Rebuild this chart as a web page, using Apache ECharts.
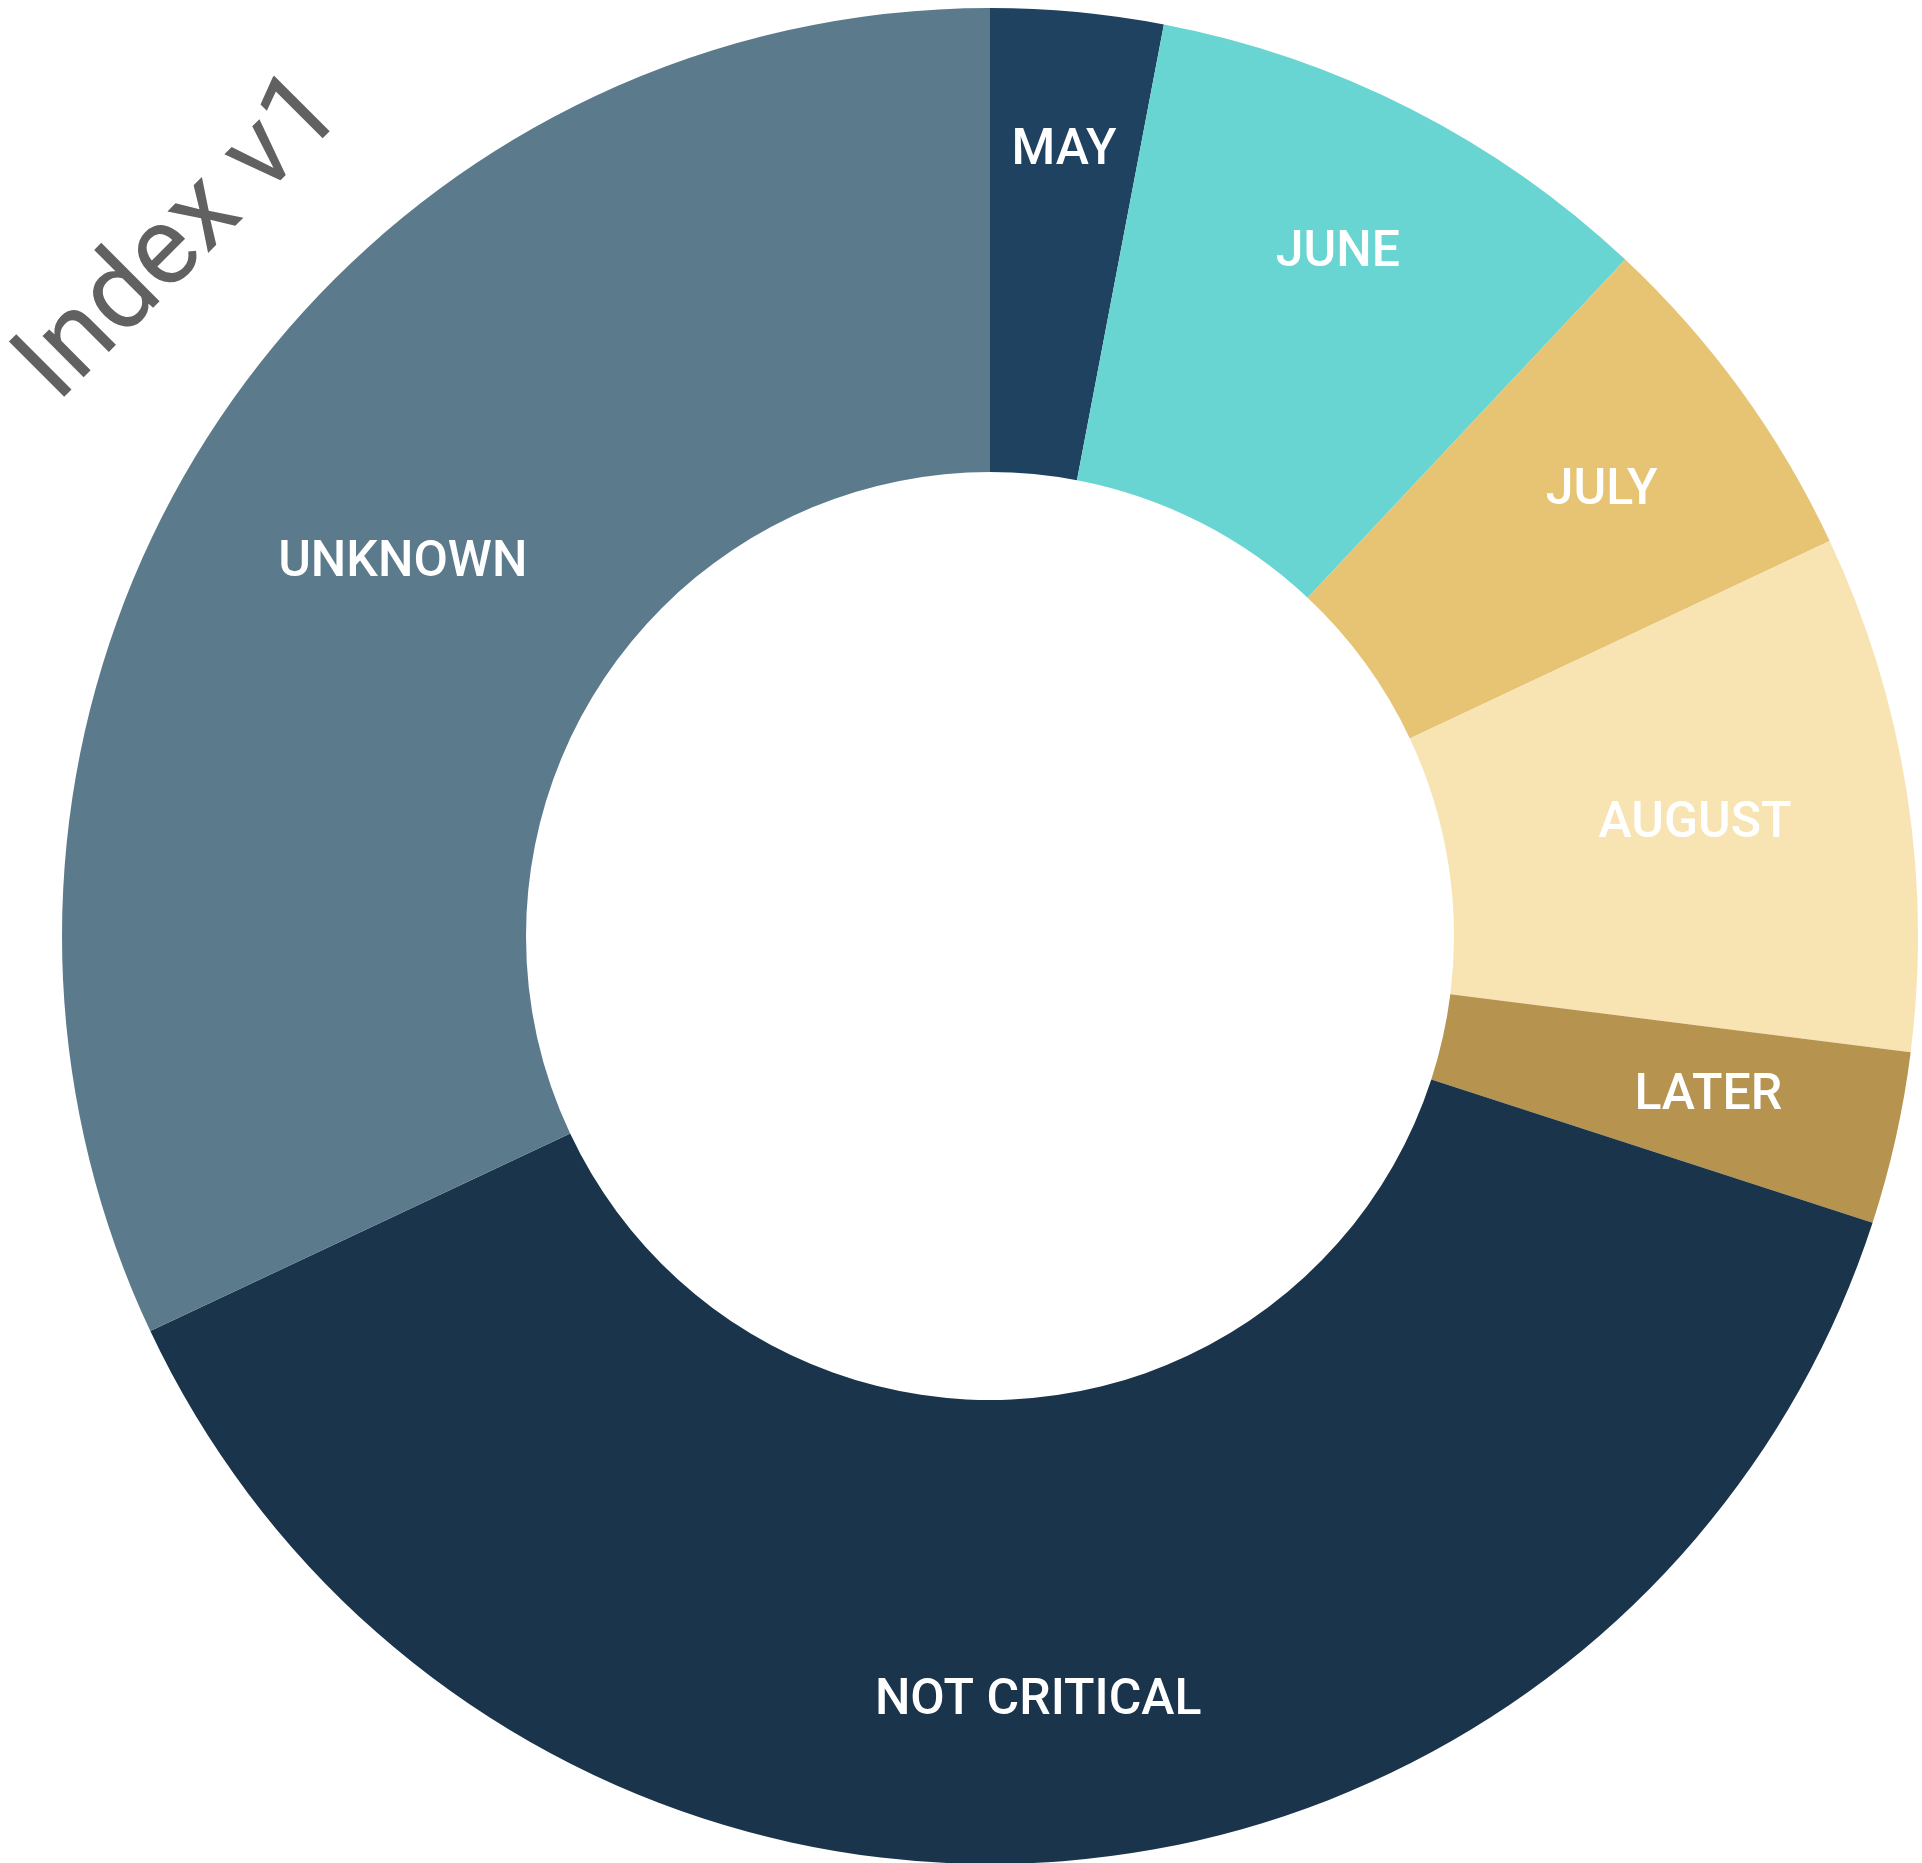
<!DOCTYPE html>
<html>
<head>
<meta charset="utf-8">
<title>Index v1</title>
<script src="https://cdn.jsdelivr.net/npm/echarts@6/dist/echarts.min.js"></script>
<style>
  html, body { margin: 0; padding: 0; background: #ffffff; }
  #chart { width: 1922px; height: 1863px; }
</style>
</head>
<body>
<div id="chart"></div>
<script>
// Share of items by expected timing
const categories = ['MAY', 'JUNE', 'JULY', 'AUGUST', 'LATER', 'NOT CRITICAL', 'UNKNOWN'];
const values = [3, 9, 6, 9, 3, 38, 32];
const colors = ['#1f4260', '#69d5d2', '#e7c474', '#f8e4b3', '#b6944f', '#1a344b', '#5b7b8d'];

const chartTitle = 'Index v1';

const chart = echarts.init(document.getElementById('chart'));

const CENTER = [990, 936];
const OUTER = 928;
const INNER = 464;
const LABEL_SIZE = 50;
// labels sit on the slice bisector, pushed out until the far corner of the text
// reaches this radius
const LABEL_REACH = 0.875 * OUTER;

const pieData = categories.map((name, i) => ({
  name: name,
  value: values[i],
  itemStyle: { color: colors[i] }
}));

chart.setOption({
  backgroundColor: '#ffffff',
  animation: false,
  graphic: [{
    type: 'text',
    x: 182,
    y: 240,
    rotation: Math.PI / 4,
    style: {
      text: chartTitle,
      fill: '#616161',
      font: 'normal 110px Roboto',
      textAlign: 'center',
      textVerticalAlign: 'middle'
    }
  }],
  series: [{
    type: 'pie',
    center: CENTER,
    radius: [INNER, OUTER],
    startAngle: 90,
    clockwise: true,
    avoidLabelOverlap: false,
    silent: true,
    label: {
      show: true,
      position: 'inside',
      color: '#ffffff',
      fontFamily: 'Roboto',
      fontSize: LABEL_SIZE,
      fontWeight: 500,
      formatter: '{b}'
    },
    labelLine: { show: false },
    labelLayout: function (params) {
      const r = params.labelRect;
      const cx = r.x + r.width / 2;
      const cy = r.y + r.height / 2;
      const vx = cx - CENTER[0];
      const vy = cy - CENTER[1];
      const len = Math.sqrt(vx * vx + vy * vy) || 1;
      const ux = vx / len;
      const uy = vy / len;
      // half extents of the glyph box (cap height rather than line box)
      const a = Math.sign(ux) * r.width / 2;
      const b = Math.sign(uy) * LABEL_SIZE * 0.36;
      const p = ux * a + uy * b;
      const d = -p + Math.sqrt(p * p - (a * a + b * b - LABEL_REACH * LABEL_REACH));
      const tx = CENTER[0] + ux * d;
      const ty = CENTER[1] + uy * d;
      return { dx: tx - cx, dy: ty - cy };
    },
    itemStyle: { borderWidth: 0 },
    data: pieData
  }]
});
</script>
</body>
</html>
